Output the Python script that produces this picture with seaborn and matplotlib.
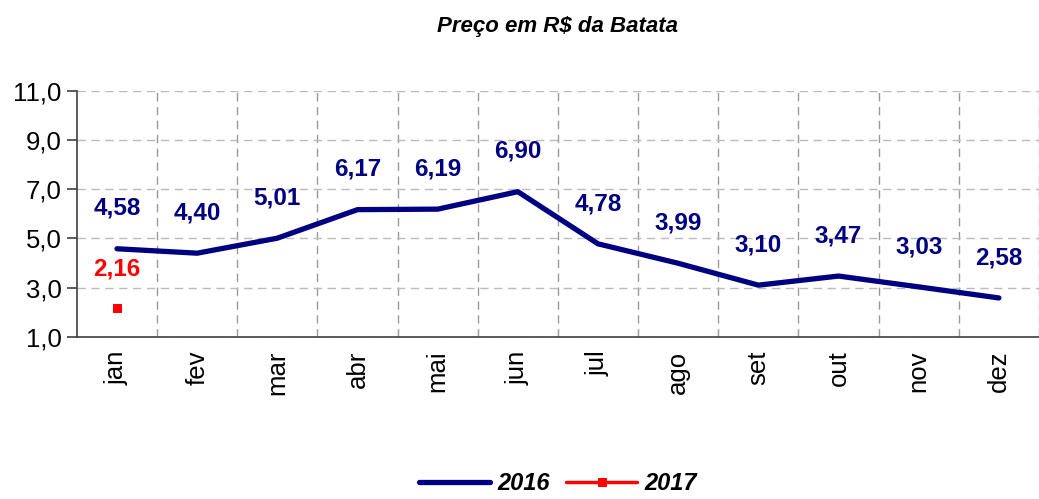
import matplotlib
matplotlib.use("Agg")
import matplotlib.pyplot as plt
import seaborn as sns
import pandas as pd
import numpy as np

months = ["jan", "fev", "mar", "abr", "mai", "jun", "jul", "ago", "set", "out", "nov", "dez"]
prices_2016 = [4.58, 4.40, 5.01, 6.17, 6.19, 6.90, 4.78, 3.99, 3.10, 3.47, 3.03, 2.58]
prices_2017 = [2.16]

sns.set_theme(style="white")
plt.rcParams["font.family"] = ["Liberation Sans", "DejaVu Sans"]

navy = "#000080"
red = "#FF0000"

df16 = pd.DataFrame({"x": np.arange(len(prices_2016)), "price": prices_2016})
df17 = pd.DataFrame({"x": np.arange(len(prices_2017)), "price": prices_2017})

fig = plt.figure(figsize=(10.39, 4.99), dpi=100)
ax = fig.add_axes([0.074, 0.325, 0.926, 0.493])

sns.lineplot(data=df16, x="x", y="price", color=navy, linewidth=3.8, ax=ax,
             label="2016", solid_capstyle="round")
sns.lineplot(data=df17, x="x", y="price", color=red, linewidth=2.5, marker="s",
             markersize=6, markeredgecolor=red, ax=ax, label="2017")

for x, v in zip(df16["x"], df16["price"]):
    ax.annotate(f"{v:.2f}".replace(".", ","), (x, v), xytext=(0, 29),
                textcoords="offset points", ha="center", va="center",
                color=navy, fontsize=17.5, fontweight="bold")
for x, v in zip(df17["x"], df17["price"]):
    ax.annotate(f"{v:.2f}".replace(".", ","), (x, v), xytext=(0, 28),
                textcoords="offset points", ha="center", va="center",
                color=red, fontsize=17.5, fontweight="bold")

ax.set_xlim(-0.5, 11.35)
ax.set_ylim(1, 11)
ax.set_yticks(np.arange(1, 12, 2))
ax.set_yticklabels([f"{t:.1f}".replace(".", ",") for t in np.arange(1, 12, 2)],
                   fontsize=18.5, color="black")

# ticks/gridlines between categories, labels at centres
ax.set_xticks(np.arange(len(months)))
ax.set_xticklabels(months, rotation=90, fontsize=18.5, color="black")
ax.set_xticks(np.arange(len(months)) + 0.5, minor=True)
ax.tick_params(axis="x", which="major", length=0, pad=10)
ax.tick_params(axis="x", which="minor", length=7, color="#404040", width=1.2)
ax.tick_params(axis="y", length=7, color="#404040", width=1.2, left=True, pad=4)
ax.grid(False)
ax.grid(True, axis="x", which="minor", linestyle=(0, (6, 4)), color="#999999", linewidth=1)
ax.grid(True, axis="y", which="major", linestyle=(0, (6, 4)), color="#bbbbbb", linewidth=1)

for s in ["top", "right"]:
    ax.spines[s].set_visible(False)
for s in ["left", "bottom"]:
    ax.spines[s].set_color("#404040")
    ax.spines[s].set_linewidth(1.2)

ax.set_xlabel("")
ax.set_ylabel("")
ax.set_title("Preço em R$ da Batata", fontsize=16, fontweight="bold", fontstyle="italic",
             pad=42, color="black")

leg = ax.legend(loc="lower center", bbox_to_anchor=(0.5, -0.73), ncol=2, frameon=False,
                handlelength=3.0, columnspacing=0.7, handletextpad=0.3,
                prop={"size": 17, "weight": "bold", "style": "italic"})
for t in leg.get_texts():
    t.set_color("black")

fig.savefig("out.png", dpi=100)
